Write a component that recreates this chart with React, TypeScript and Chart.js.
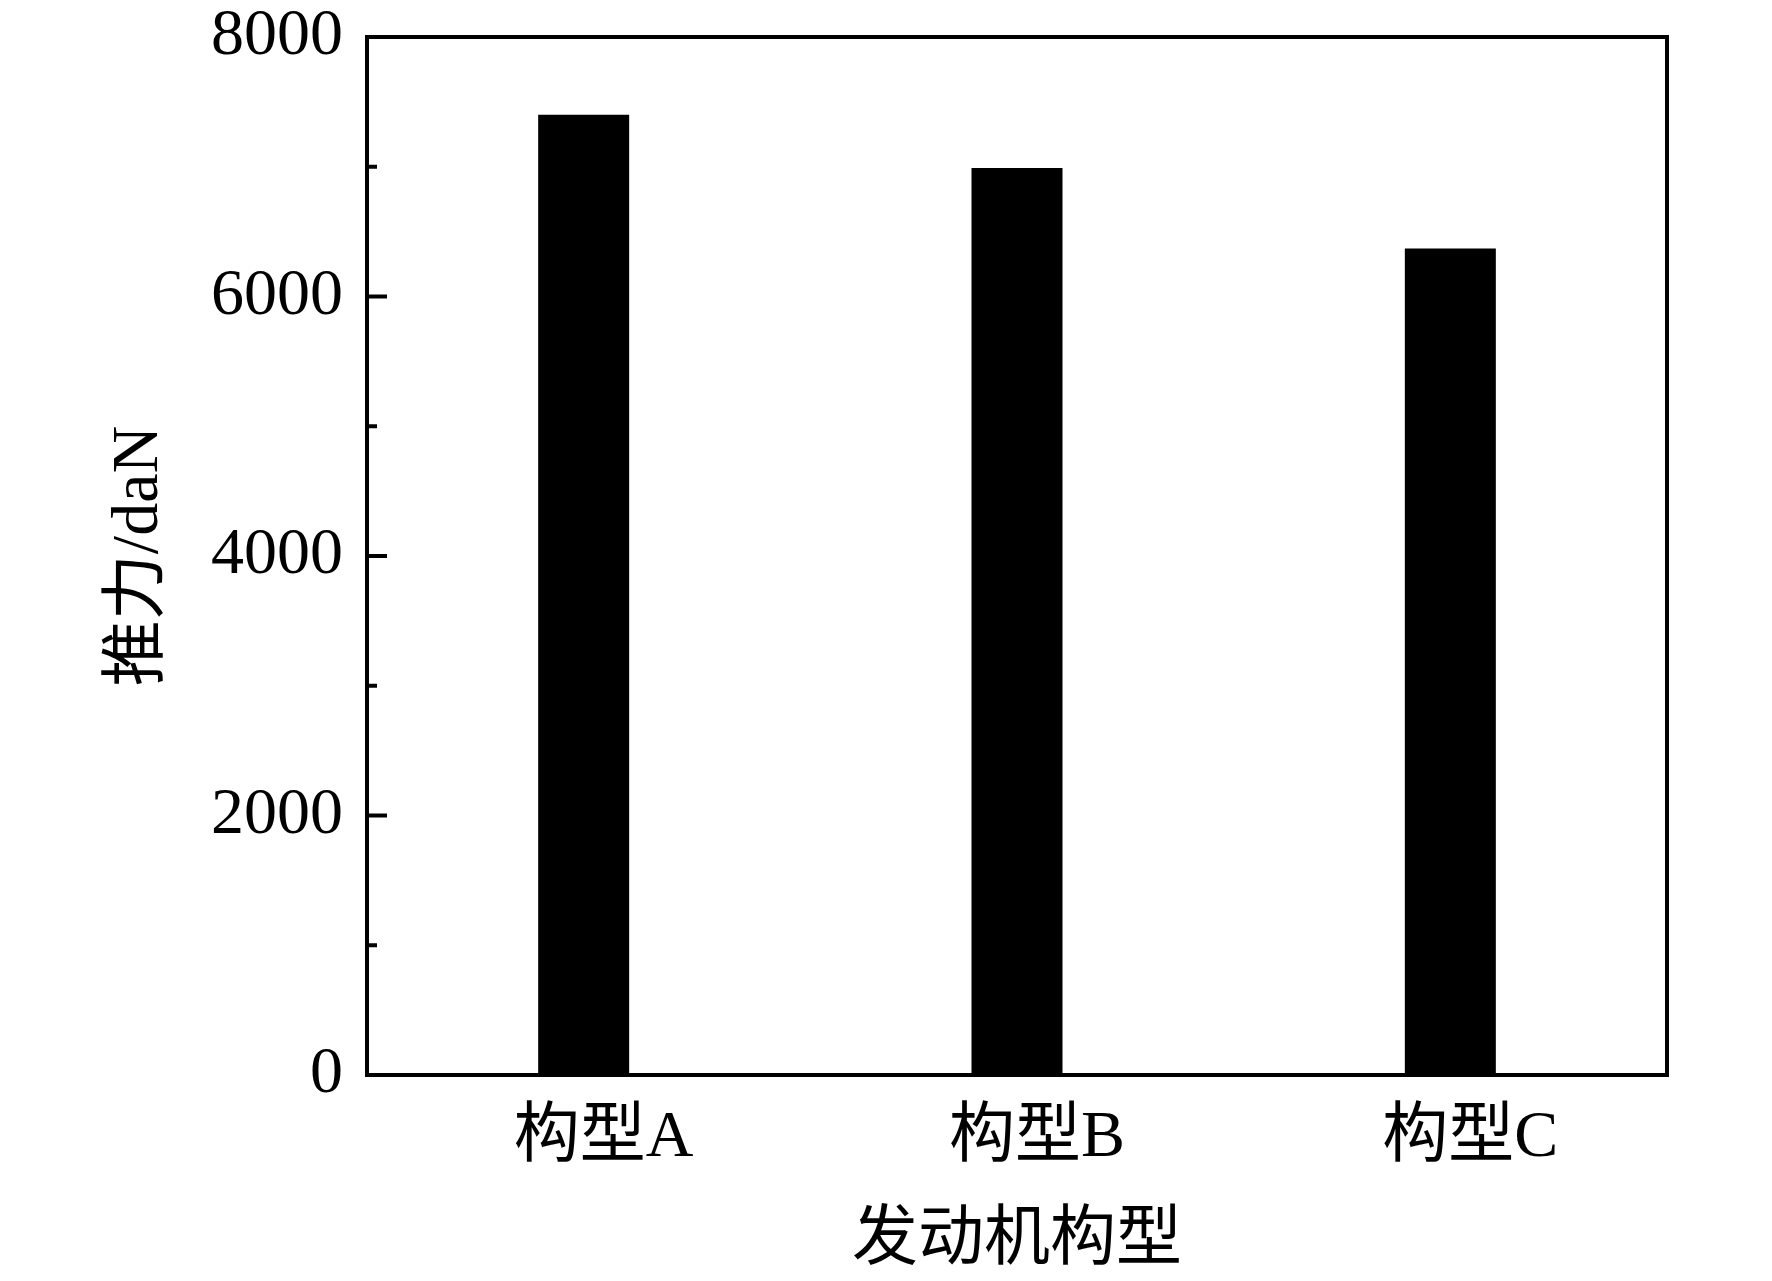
import { useEffect, useRef } from 'react'
import { Chart, registerables } from 'chart.js'

Chart.register(...registerables)

const categories = ['构型A', '构型B', '构型C']
const thrustValues = [7400, 6990, 6370]
const yMajorTicks = [0, 2000, 4000, 6000, 8000]
const yMinorTicks = [1000, 3000, 5000, 7000]
const xTitle = '发动机构型'
const yTitle = '推力/daN'

const FONT = "'Liberation Serif', 'Noto Sans CJK SC', serif"

// frame round the plot + inward ticks on the left axis
const framePlugin = {
  id: 'frame',
  afterDraw(chart) {
    const { ctx, chartArea } = chart
    const y = chart.scales.y
    ctx.save()
    ctx.strokeStyle = '#000'
    ctx.lineWidth = 4
    ctx.lineCap = 'butt'
    const drawTick = (v, len) => {
      const py = y.getPixelForValue(v)
      ctx.beginPath()
      ctx.moveTo(chartArea.left, py)
      ctx.lineTo(chartArea.left + len, py)
      ctx.stroke()
    }
    yMajorTicks.forEach((v) => drawTick(v, 20))
    yMinorTicks.forEach((v) => drawTick(v, 10))
    ctx.strokeRect(chartArea.left, chartArea.top, chartArea.right - chartArea.left, chartArea.bottom - chartArea.top)
    ctx.restore()
  }
}

const App = () => {
  const chartRef = useRef(null)
  const chartInstance = useRef(null)

  useEffect(() => {
    if (chartRef && chartRef.current) {
      const ctx = chartRef.current.getContext('2d')

      if (chartInstance.current) {
        chartInstance.current.destroy()
      }

      chartInstance.current = new Chart(ctx, {
        type: 'bar',
        data: {
          labels: categories,
          datasets: [
            {
              label: yTitle,
              data: thrustValues,
              backgroundColor: '#000',
              borderWidth: 0,
              barPercentage: 0.21,
              categoryPercentage: 1
            }
          ]
        },
        plugins: [framePlugin],
        options: {
          animation: false,
          responsive: false,
          devicePixelRatio: 1,
          layout: {
            padding: { top: 37, right: 105, left: 0, bottom: 0 }
          },
          plugins: {
            legend: { display: false },
            tooltip: { enabled: false }
          },
          scales: {
            x: {
              offset: true,
              grid: { display: false, drawTicks: false },
              border: { display: false },
              ticks: {
                color: '#000',
                padding: 24,
                labelOffset: 20,
                font: { family: FONT, size: 66 }
              },
              title: {
                display: true,
                text: xTitle,
                color: '#000',
                padding: { top: 0, bottom: 0 },
                font: { family: FONT, size: 66 }
              },
              afterFit: (scale) => {
                scale.height = 206
                scale.paddingLeft = 0
                scale.paddingRight = 0
              }
            },
            y: {
              min: 0,
              max: 8000,
              grid: { display: false, drawTicks: false },
              border: { display: false },
              afterBuildTicks: (scale) => {
                scale.ticks = yMajorTicks.map((v) => ({ value: v }))
              },
              ticks: {
                color: '#000',
                padding: 24,
                font: { family: FONT, size: 66 },
                callback: (value) => String(value)
              },
              title: {
                display: true,
                text: yTitle,
                color: '#000',
                padding: { top: 100, bottom: 0 },
                font: { family: FONT, size: 66 }
              },
              afterFit: (scale) => {
                scale.width = 367
                scale.paddingTop = 0
                scale.paddingBottom = 0
              }
            }
          }
        }
      })
    }

    return () => {
      if (chartInstance.current) {
        chartInstance.current.destroy()
        chartInstance.current = null
      }
    }
  }, [])

  return (
    <div style={{ position: 'fixed', left: 0, top: 0, width: 1772, height: 1281, background: '#fff' }}>
      <canvas ref={chartRef} width={1772} height={1281} style={{ width: 1772, height: 1281 }} />
    </div>
  )
}

export default App
